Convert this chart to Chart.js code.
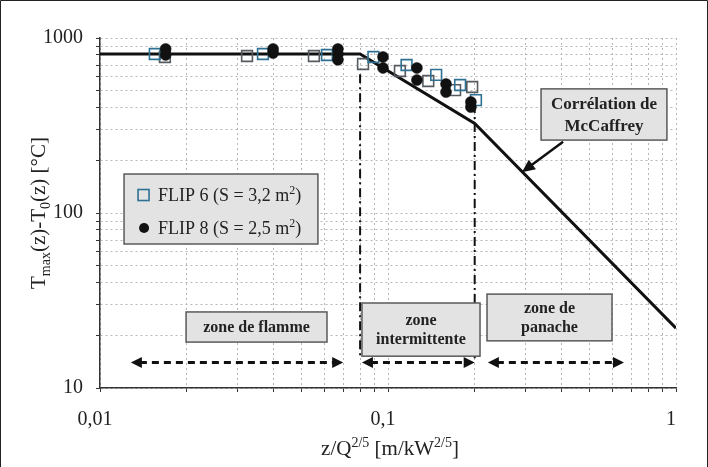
<!DOCTYPE html>
<html><head><meta charset="utf-8">
<script src="https://cdn.jsdelivr.net/npm/chart.js@4/dist/chart.umd.min.js"></script>
<style>html,body{margin:0;padding:0;background:#fff}#wrap{position:relative;width:708px;height:467px}</style>
</head><body><div id="wrap"><canvas id="c"></canvas></div>
<script>
// ---- data ----
const xTickLabels = ['0,01', '0,1', '1'];
const yTickLabels = ['10', '100', '1000'];

const flip6X = [0.0168, 0.0155, 0.0324, 0.0368, 0.0553, 0.0614, 0.0819, 0.0890, 0.110, 0.116, 0.138, 0.147, 0.171, 0.178, 0.196, 0.202];
const flip6Y = [779, 810, 789, 810, 789, 800, 710, 779, 648, 701, 568, 615, 504, 539, 525, 442];

const flip8X = [0.0169, 0.0169, 0.0399, 0.0399, 0.0670, 0.0670, 0.0670, 0.0961, 0.0961, 0.126, 0.126, 0.159, 0.159, 0.194, 0.194];
const flip8Y = [866, 800, 866, 821, 866, 810, 750, 779, 674, 674, 575, 546, 491, 431, 403];

const mcCaffreyX = [0.01, 0.08, 0.2, 1];
const mcCaffreyY = [810, 810, 325, 22];

const seriesNames = ['FLIP 6 (S = 3,2 m^{2})', 'FLIP 8 (S = 2,5 m^{2})'];
const curveName = ['Corrélation de', 'McCaffrey'];
const zoneNames = [['zone de flamme'], ['zone', 'intermittente'], ['zone de', 'panache']];
const zoneLimits = [0.08, 0.2];
const xTitle = 'z/Q^{2/5} [m/kW^{2/5}]';
const yTitle = 'T_{max}(z)-T_{0}(z) [°C]';

// ---- annotation placement (in data coordinates) ----
const ann = {
  zoneBoxes: [
    {x0: 0.0199, x1: 0.0614, y0: 27.2, y1: 18.3},
    {x0: 0.0812, x1: 0.2087, y0: 30.6, y1: 15.2},
    {x0: 0.2207, x1: 0.5995, y0: 34.4, y1: 18.6}
  ],
  zoneArrows: [[0.0128, 0.0699], [0.0812, 0.2], [0.2222, 0.66]],
  arrowY: 14,
  dashTop: [620, 420],
  dashBottom: 14.8,
  mcBox: {x0: 0.34, x1: 0.93, y0: 512, y1: 261},
  mcArrow: {x0: 0.4055, y0: 255, x1: 0.2917, y1: 171},
  legendBox: {x0: 0.01212, x1: 0.0571, y0: 167, y1: 66.5}
};

const SERIF = '"Liberation Serif", "DejaVu Serif", serif';
const BLUE = '#2f7193', GRAY6 = '#555b60';

function parseRich(s) {
  const out = []; const re = /([_^])\{([^}]*)\}/g; let last = 0, m;
  while ((m = re.exec(s))) {
    if (m.index > last) out.push({t: s.slice(last, m.index), k: 'n'});
    out.push({t: m[2], k: m[1] === '^' ? 'sup' : 'sub'});
    last = re.lastIndex;
  }
  if (last < s.length) out.push({t: s.slice(last), k: 'n'});
  return out;
}
function segFont(k, size, weight) {
  const sz = k === 'n' ? size : Math.round(size * 0.65);
  return (weight || 'normal') + ' ' + sz + 'px ' + SERIF;
}
function drawRich(ctx, s, x, y, size, align, weight) {
  const segs = parseRich(s);
  let w = 0;
  segs.forEach(g => { ctx.font = segFont(g.k, size, weight); g.w = ctx.measureText(g.t).width; w += g.w; });
  let cx = align === 'center' ? x - w / 2 : x;
  ctx.textAlign = 'left'; ctx.textBaseline = 'alphabetic';
  segs.forEach(g => {
    ctx.font = segFont(g.k, size, weight);
    const dy = g.k === 'sup' ? -size * 0.38 : (g.k === 'sub' ? size * 0.22 : 0);
    ctx.fillText(g.t, cx, y + dy);
    cx += g.w;
  });
}
function arrowHead(ctx, x, y, ang, len, half) {
  ctx.save(); ctx.translate(x, y); ctx.rotate(ang);
  ctx.beginPath(); ctx.moveTo(0, 0); ctx.lineTo(-len, -half); ctx.lineTo(-len, half); ctx.closePath(); ctx.fill();
  ctx.restore();
}
function box(ctx, xs, ys, b) {
  const x0 = xs.getPixelForValue(b.x0), x1 = xs.getPixelForValue(b.x1);
  const y0 = ys.getPixelForValue(b.y0), y1 = ys.getPixelForValue(b.y1);
  ctx.save();
  ctx.fillStyle = '#e3e3e3'; ctx.strokeStyle = '#5a5a5a'; ctx.lineWidth = 1.5; ctx.setLineDash([]);
  ctx.fillRect(x0, y0, x1 - x0, y1 - y0); ctx.strokeRect(x0, y0, x1 - x0, y1 - y0);
  ctx.restore();
  return {x0, x1, y0, y1};
}

const overlay = {
  id: 'overlay',
  beforeDatasetsDraw(chart) {
    const ctx = chart.ctx, xs = chart.scales.x, ys = chart.scales.y;
    ctx.save();
    ctx.strokeStyle = '#111'; ctx.lineWidth = 2; ctx.setLineDash([9, 4, 2, 4]);
    zoneLimits.forEach((v, i) => {
      const px = xs.getPixelForValue(v);
      ctx.beginPath(); ctx.moveTo(px, ys.getPixelForValue(ann.dashTop[i])); ctx.lineTo(px, ys.getPixelForValue(ann.dashBottom)); ctx.stroke();
    });
    ctx.restore();
  },
  afterDatasetsDraw(chart) {
    const ctx = chart.ctx, xs = chart.scales.x, ys = chart.scales.y;
    ctx.save();
    // zone boxes
    ann.zoneBoxes.forEach((b, i) => {
      const r = box(ctx, xs, ys, b);
      const lines = zoneNames[i];
      const cx = (r.x0 + r.x1) / 2, cy = (r.y0 + r.y1) / 2;
      const lh = 19;
      ctx.fillStyle = '#222';
      lines.forEach((t, j) => {
        const y = cy + (j - (lines.length - 1) / 2) * lh + 5;
        drawRich(ctx, t, cx, y, 16, 'center', 'bold');
      });
    });
    // dashed double arrows
    const ay = ys.getPixelForValue(ann.arrowY);
    ctx.strokeStyle = '#111'; ctx.fillStyle = '#111';
    ann.zoneArrows.forEach(a => {
      const xa = xs.getPixelForValue(a[0]), xb = xs.getPixelForValue(a[1]);
      ctx.lineWidth = 3; ctx.setLineDash([7, 5]);
      ctx.beginPath(); ctx.moveTo(xa + 9, ay); ctx.lineTo(xb - 9, ay); ctx.stroke();
      ctx.setLineDash([]);
      arrowHead(ctx, xa, ay, Math.PI, 11, 5.5);
      arrowHead(ctx, xb, ay, 0, 11, 5.5);
    });
    // McCaffrey box and arrow
    const r = box(ctx, xs, ys, ann.mcBox);
    ctx.fillStyle = '#222';
    const mcx = (r.x0 + r.x1) / 2, mcy = (r.y0 + r.y1) / 2;
    drawRich(ctx, curveName[0], mcx, mcy - 5, 17, 'center', 'bold');
    drawRich(ctx, curveName[1], mcx, mcy + 17, 17, 'center', 'bold');
    const ax0 = xs.getPixelForValue(ann.mcArrow.x0), ay0 = ys.getPixelForValue(ann.mcArrow.y0);
    const ax1 = xs.getPixelForValue(ann.mcArrow.x1), ay1 = ys.getPixelForValue(ann.mcArrow.y1);
    const ang = Math.atan2(ay1 - ay0, ax1 - ax0);
    ctx.strokeStyle = '#111'; ctx.fillStyle = '#111'; ctx.lineWidth = 2.5; ctx.setLineDash([]);
    ctx.beginPath(); ctx.moveTo(ax0, ay0); ctx.lineTo(ax1 - 10 * Math.cos(ang), ay1 - 10 * Math.sin(ang)); ctx.stroke();
    arrowHead(ctx, ax1, ay1, ang, 13, 6);
    // legend
    const L = box(ctx, xs, ys, ann.legendBox);
    const e1 = L.y0 + 21, e2 = L.y0 + 54;
    ctx.strokeStyle = BLUE; ctx.lineWidth = 1.6;
    ctx.strokeRect(L.x0 + 14, e1 - 5.5, 11, 11);
    ctx.fillStyle = '#111';
    ctx.beginPath(); ctx.arc(L.x0 + 20, e2, 5, 0, Math.PI * 2); ctx.fill();
    ctx.fillStyle = '#222';
    drawRich(ctx, seriesNames[0], L.x0 + 34, e1 + 6, 18, 'left');
    drawRich(ctx, seriesNames[1], L.x0 + 34, e2 + 6, 18, 'left');
    ctx.restore();
  },
  afterDraw(chart) {
    const ctx = chart.ctx;
    ctx.save();
    ctx.fillStyle = '#222';
    // axis titles
    drawRich(ctx, xTitle, 390, 455, 21, 'center');
    ctx.translate(45, 213); ctx.rotate(-Math.PI / 2);
    drawRich(ctx, yTitle, 0, 0, 21, 'center');
    ctx.restore();
    // outer frame
    ctx.save();
    ctx.strokeStyle = '#222'; ctx.lineWidth = 1;
    ctx.beginPath(); ctx.moveTo(0.5, 467); ctx.lineTo(0.5, 0.5); ctx.lineTo(707.5, 0.5); ctx.lineTo(707.5, 467); ctx.stroke();
    ctx.restore();
  }
};

function decadeTicks(lo, hi) {
  const t = [];
  for (let e = lo; e < hi; e++) for (let m = 1; m <= 9; m++) t.push({value: parseFloat((m * Math.pow(10, e)).toPrecision(6))});
  t.push({value: Math.pow(10, hi)});
  return t;
}
function powLabel(v, labels, offset) {
  const e = Math.log10(v), r = Math.round(e);
  return Math.abs(e - r) < 1e-6 ? labels[r + offset] : '';
}

const gridCommon = {color: '#b5b5b5', lineWidth: 1, drawTicks: true, tickLength: 4, tickColor: '#333', tickWidth: 1};

new Chart(document.getElementById('c'), {
  type: 'scatter',
  data: {
    datasets: [
      {
        label: 'FLIP 8', order: 1,
        data: flip8X.map((x, i) => ({x, y: flip8Y[i]})),
        pointStyle: 'circle', pointRadius: 5.5, pointBackgroundColor: '#111', pointBorderColor: '#111', pointBorderWidth: 0.5
      },
      {
        label: 'FLIP 6', order: 2,
        data: flip6X.map((x, i) => ({x, y: flip6Y[i]})),
        pointStyle: 'rect', pointRadius: 7.6, pointBackgroundColor: 'rgba(255,255,255,0)',
        pointBorderColor: c => (c.dataIndex % 2 ? BLUE : GRAY6), pointBorderWidth: 1.6
      },
      {
        label: 'McCaffrey', order: 3, type: 'line',
        data: mcCaffreyX.map((x, i) => ({x, y: mcCaffreyY[i]})),
        borderColor: '#111', borderWidth: 3, pointRadius: 0, fill: false, tension: 0
      }
    ]
  },
  options: {
    responsive: true, maintainAspectRatio: false, animation: false,
    layout: {padding: {left: 0, top: 38, right: 32, bottom: 0}},
    plugins: {legend: {display: false}, tooltip: {enabled: false}},
    scales: {
      x: {
        type: 'logarithmic', min: 0.01, max: 1,
        afterBuildTicks: s => { s.ticks = decadeTicks(-2, 0); },
        afterFit: s => { s.height = 79; },
        ticks: {autoSkip: false, maxRotation: 0, minRotation: 0, padding: 16, labelOffset: -5,
          color: '#222', font: {family: SERIF, size: 20},
          callback: v => powLabel(v, xTickLabels, 2)},
        grid: gridCommon,
        border: {display: true, color: '#333', width: 1.5, dash: [2, 3]}
      },
      y: {
        type: 'logarithmic', min: 10, max: 1000,
        afterBuildTicks: s => { s.ticks = decadeTicks(1, 3); },
        afterFit: s => { s.width = 100; },
        ticks: {autoSkip: false, padding: 13, color: '#222', font: {family: SERIF, size: 20},
          callback: v => powLabel(v, yTickLabels, -1)},
        grid: gridCommon,
        border: {display: true, color: '#333', width: 1.5, dash: [2, 3]}
      }
    }
  },
  plugins: [overlay]
});
</script>
</body></html>
